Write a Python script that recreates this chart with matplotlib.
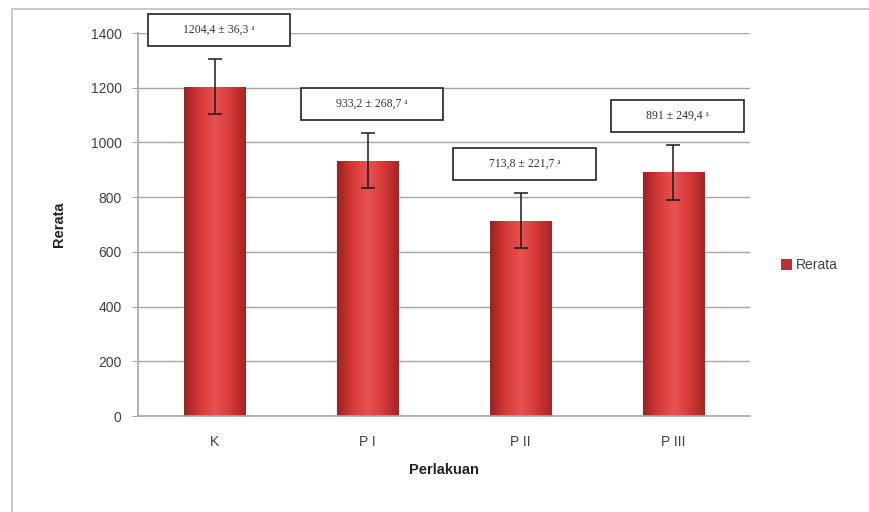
import matplotlib
matplotlib.use("Agg")
import numpy as np
import matplotlib.pyplot as plt
from matplotlib.path import Path
from matplotlib.patches import Rectangle
from matplotlib.colors import LinearSegmentedColormap

categories = ["K", "P I", "P II", "P III"]
means = [1204.4, 933.2, 713.8, 891]
sd = [36.3, 268.7, 221.7, 249.4]
err = [100, 100, 100, 100]   # error bar length as drawn

bar_color = "#D43F3C"
grid_color = "#A6A6A6"
text_color = "#404040"

plt.rcParams["font.family"] = ["Liberation Sans", "DejaVu Sans"]


def fmt(v):
    return f"{v:g}".replace(".", ",")


def wide_box(x0, y0, width, height, mutation_size):
    # rectangle with more padding left/right than top/bottom
    px, py = 3.0 * mutation_size, 0.85 * mutation_size
    x0, y0 = x0 - px, y0 - py
    w, h = width + 2 * px, height + 2 * py
    return Path([(x0, y0), (x0 + w, y0), (x0 + w, y0 + h), (x0, y0 + h), (x0, y0)],
                closed=True)


fig = plt.figure(figsize=(8.69, 5.12), dpi=100)
ax = fig.add_axes([0.159, 0.1875, 0.704, 0.748])

# chart border
fig.patches.append(Rectangle((0.014, -0.01), 1.0, 0.993, transform=fig.transFigure,
                             fill=False, edgecolor="#BFBFBF", linewidth=1.2))

x = range(len(categories))
bars = ax.bar(x, means, width=0.4, color=bar_color, edgecolor="#A82828", linewidth=0.6,
              label="Rerata", zorder=2)

# Excel-like horizontal shading inside each bar
shade = LinearSegmentedColormap.from_list(
    "shade", ["#9E2222", "#D63A38", "#E85250", "#D63A38", "#A52525"])
grad = np.linspace(0, 1, 64).reshape(1, -1)
for b in bars:
    im = ax.imshow(grad, cmap=shade, aspect="auto", zorder=2.1,
                   extent=(b.get_x(), b.get_x() + b.get_width(), 0, b.get_height()))
    im.set_clip_path(b)

ax.errorbar(x, means, yerr=err, fmt="none", ecolor="#1a1a1a", elinewidth=1.1,
            capsize=5, capthick=1.1, zorder=3)

for i, (m, s, e) in enumerate(zip(means, sd, err)):
    label = f"{fmt(m)} ± {fmt(s)} ᵃ"
    ax.annotate(label, xy=(i, m + e), xytext=(3, 21), textcoords="offset points",
                ha="center", va="center", fontsize=8.5, color="#333333",
                family=["Liberation Serif", "DejaVu Serif"],
                bbox=dict(boxstyle=wide_box, facecolor="white", edgecolor="#222222",
                          linewidth=1.2),
                annotation_clip=False, zorder=4)

ax.set_xlim(-0.5, len(categories) - 0.5)
ax.set_ylim(0, 1400)
ax.set_yticks(range(0, 1401, 200))
ax.yaxis.grid(True, color=grid_color, linewidth=1.0, zorder=0)
ax.set_axisbelow(True)

ax.set_xticks(list(x))
ax.set_xticklabels(categories)
ax.tick_params(axis="x", length=0, pad=14, labelsize=10, labelcolor=text_color)
ax.tick_params(axis="y", length=4, color=grid_color, pad=8, labelsize=10,
               labelcolor=text_color)

for side in ["top", "right"]:
    ax.spines[side].set_visible(False)
for side in ["left", "bottom"]:
    ax.spines[side].set_color(grid_color)
    ax.spines[side].set_linewidth(1.2)

ax.set_xlabel("Perlakuan", fontsize=10.5, fontweight="bold", color="#222222", labelpad=10)
ax.set_ylabel("Rerata", fontsize=10.5, fontweight="bold", color="#222222", labelpad=18)

leg = ax.legend(loc="center left", bbox_to_anchor=(1.03, 0.394), frameon=False,
                fontsize=10, handlelength=0.7, handleheight=0.7, handletextpad=0.4,
                labelcolor=text_color)
for h in leg.legend_handles:
    h.set_facecolor("#B83030")

fig.savefig("out.png", dpi=100)
